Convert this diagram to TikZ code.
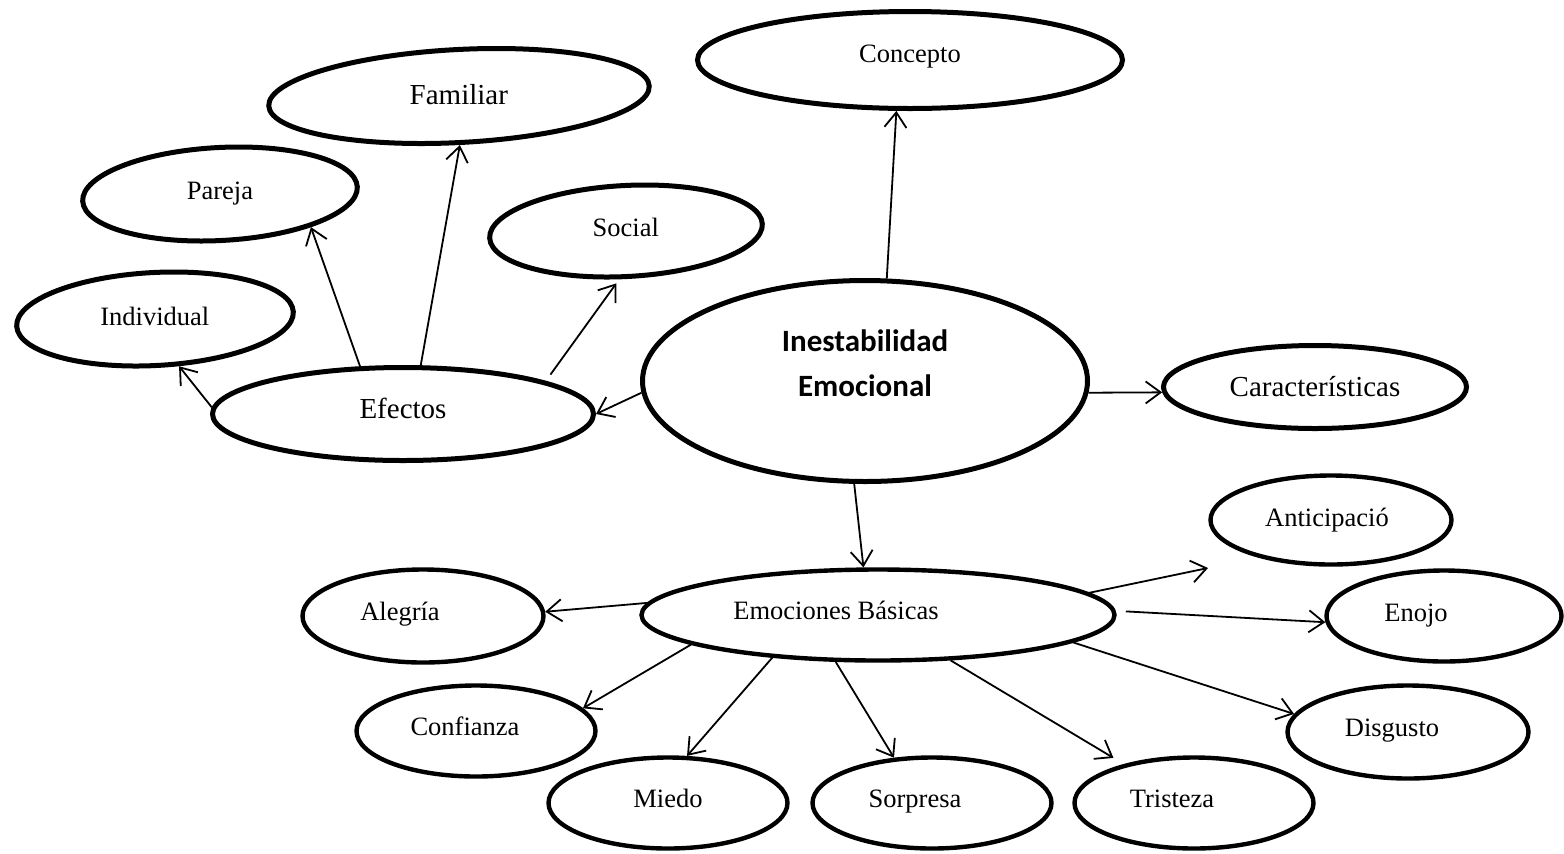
\documentclass[tikz,border=0pt]{standalone}
\usepackage{fontspec}
\setmainfont{Liberation Serif}
\newfontfamily\calib{Carlito}
\usetikzlibrary{arrows.meta,shapes.geometric}
\newcommand\shtext[3]{\raisebox{#2}[\height][\depth]{\kern#1\relax#3\kern-#1\relax}}
\begin{document}
\begin{tikzpicture}[x=0.5pt,y=-0.5pt,
  ellbase/.style={ellipse, draw, line width=2.5pt, inner sep=0pt},
  ell/.style={ellbase, text height=8pt, text depth=4pt, font=\fontsize{13.25}{16}\selectfont},
  ellb/.style={ell, line width=2.2pt},
  tilt/.style={rotate=3},
  big/.style={font=\fontsize{14.5}{17}\selectfont},
  arr/.style={line width=0.9pt, -{Straight Barb[length=7.5pt,width=11pt]}}]
\useasboundingbox (0,0) rectangle (1564,853);

% upper group
\node[ell,big,tilt,minimum width=190.5pt,minimum height=46.5pt] (familiar) at (459,96) {\rotatebox{-3}{\shtext{0pt}{-1pt}{Familiar}}};
\node[ell,tilt,minimum width=137.5pt,minimum height=46.5pt] (pareja) at (220,194) {\rotatebox{-3}{Pareja}};
\node[ell,tilt,minimum width=136.5pt,minimum height=45.5pt] (social) at (626,231) {\rotatebox{-3}{Social}};
\node[ell,tilt,minimum width=138.5pt,minimum height=46.5pt] (individual) at (155,319) {\rotatebox{-3}{Individual}};
\node[ell,big,minimum width=190.5pt,minimum height=46.5pt] (efectos) at (403,414) {Efectos};
\node[ell,minimum width=212.5pt,minimum height=48.5pt] (concepto) at (910,60) {\shtext{0pt}{1pt}{Concepto}};
\node[ellbase,minimum width=222.5pt,minimum height=100.5pt,font=\calib\bfseries\fontsize{15.5}{22.5}\selectfont] (inest) at (865,381)
  {\raisebox{8pt}[\height][\depth]{\begin{tabular}{@{}c@{}}Inestabilidad\\Emocional\end{tabular}}};
\node[ell,big,minimum width=151.5pt,minimum height=41.5pt] (caract) at (1315,387) {\shtext{0pt}{-2.8pt}{Características}};

% lower group
\node[ellb,minimum width=120.5pt,minimum height=44.5pt] (anticip) at (1331,520) {\shtext{-2pt}{-1pt}{Anticipació}};
\node[ellb,minimum width=120.5pt,minimum height=46.5pt] (alegria) at (423,616) {\shtext{-11.5pt}{0pt}{Alegría}};
\node[ellb,minimum width=236.5pt,minimum height=45.5pt] (emoc) at (878,615) {\shtext{-21pt}{0pt}{Emociones Básicas}};
\node[ellb,minimum width=117.5pt,minimum height=45.5pt] (enojo) at (1444,616) {\shtext{-14pt}{-0.5pt}{Enojo}};
\node[ellb,minimum width=119.5pt,minimum height=45.5pt] (confianza) at (476,731) {\shtext{-5.5pt}{0pt}{Confianza}};
\node[ellb,minimum width=120.5pt,minimum height=46.5pt] (disgusto) at (1408,732) {\shtext{-8pt}{0pt}{Disgusto}};
\node[ellb,minimum width=119.5pt,minimum height=45.5pt] (miedo) at (668,803) {Miedo};
\node[ellb,minimum width=119.5pt,minimum height=45.5pt] (sorpresa) at (932,803) {\shtext{-8.5pt}{0pt}{Sorpresa}};
\node[ellb,minimum width=119.5pt,minimum height=45.5pt] (tristeza) at (1194,803) {\shtext{-11pt}{0pt}{Tristeza}};
\coordinate (antTip) at (1208,568);

% connectors
\draw[arr] (efectos.178) -- (individual.294);
\draw[arr] (efectos.132) -- (pareja.337);
\draw[arr] (efectos.70) -- (familiar.268);
\draw[arr,shorten <=4pt,shorten >=2.5pt] (efectos.13) -- (social.259);
\draw[arr] (inest.183) -- (efectos.0);
\draw[arr] (inest.78) -- (concepto.255);
\draw[arr] (inest.357) -- (caract.182);
\draw[arr] (inest.264) -- (emoc.107);
\draw[arr] (emoc.177) -- (alegria.2);
\draw[arr] (emoc.6) -- (antTip);
\draw[arr,shorten <=5pt] (emoc.1) -- (enojo.183);
\draw[arr] (emoc.352) -- (disgusto.171);
\draw[arr] (emoc.189) -- (confianza.12);
\draw[arr] (emoc.202) -- (miedo.68);
\draw[arr] (emoc.228) -- (sorpresa.130);
\draw[arr,shorten >=6pt] (emoc.328) -- (tristeza.151);
\end{tikzpicture}
\end{document}
